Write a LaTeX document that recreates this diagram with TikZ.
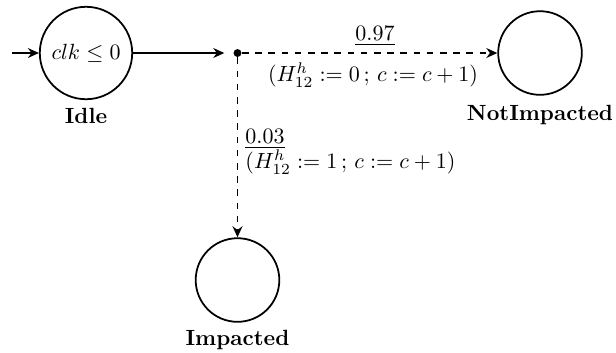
\documentclass[tikz,border=0pt]{standalone}
\usetikzlibrary{arrows.meta}
\begin{document}
\begin{tikzpicture}[x=0.4545pt,y=-0.4545pt,
  state/.style={circle,draw,thick,minimum size=38pt,inner sep=1pt},
  lbl/.style={font=\bfseries},
  edge/.style={thick,-{Stealth[length=5pt,width=4.5pt]}},
  prob/.style={edge,dashed}]
\useasboundingbox (0,0) rectangle (616,352);
\node[state,minimum size=42pt,label={[lbl,label distance=0pt]below:Idle}] (idle) at (86,53) {$clk \le 0$};
\coordinate (start) at (12,53);
\node[circle,fill,inner sep=0pt,minimum size=3.6pt] (dot) at (237.5,53) {};
\node[state,label={[lbl,label distance=1pt]below:NotImpacted}] (ni) at (540,53) {};
\node[state,label={[lbl,label distance=0pt]below:Impacted}] (im) at (237.5,280) {};
\draw[edge] (start) -- (idle);
\draw[edge,shorten >=4pt] (idle) -- (dot);
\draw[prob] (dot) -- (ni);
\draw[prob] (dot) -- (im);
\node (p1) at (375,36) {$\underline{0.97}$};
\node (u1) at (373,75) {$(H^h_{12} := 0\,;\, c := c+1)$};
\node[anchor=west,inner sep=0pt] (p2) at (245,139) {$\underline{0.03}$};
\node[anchor=west,inner sep=0pt] (u2) at (245,162) {$(H^h_{12} := 1\,;\, c := c+1)$};
\end{tikzpicture}
\end{document}
